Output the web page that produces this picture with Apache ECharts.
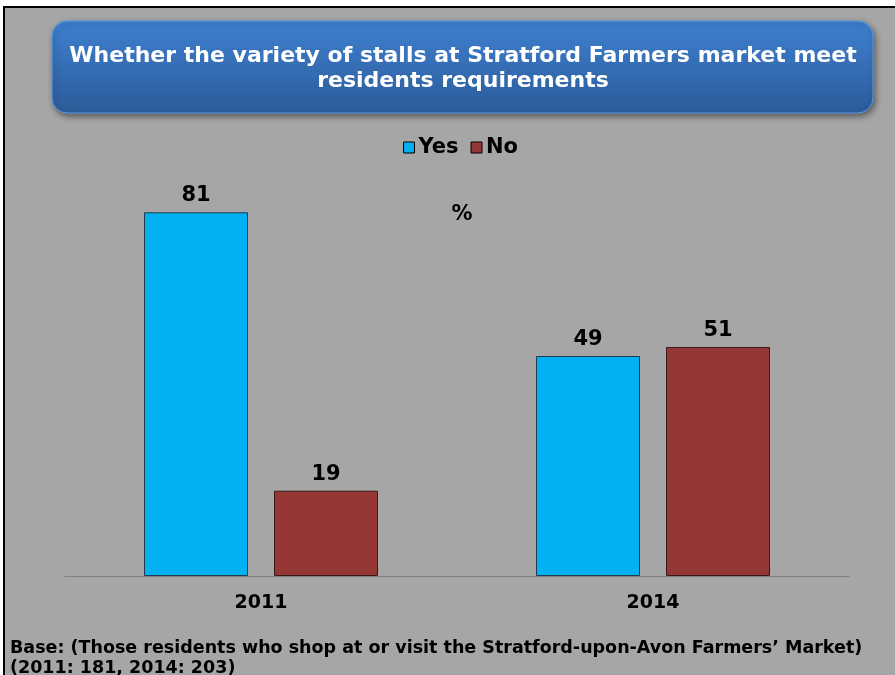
<!DOCTYPE html>
<html>
<head>
<meta charset="utf-8">
<script src="https://cdn.jsdelivr.net/npm/echarts@6/dist/echarts.min.js"></script>
<style>
html,body{margin:0;padding:0;background:#fff;}
#chart{width:895px;height:675px;}
</style>
</head>
<body>
<div id="chart"></div>
<script>
var years = ['2011', '2014'];
var yesVals = [81, 49];
var noVals = [19, 51];

var font = 'DejaVu Sans';
var myChart = echarts.init(document.getElementById('chart'));

var option = {
    backgroundColor: '#ffffff',
    animation: false,
    graphic: [
        // panel
        {type: 'rect', shape: {x: 4, y: 7, width: 895, height: 672},
         style: {fill: '#a6a6a6', stroke: '#000', lineWidth: 2}, z: -10},
        // title box
        {type: 'rect', shape: {x: 52, y: 21, width: 821, height: 92, r: 15},
         style: {
             fill: new echarts.graphic.LinearGradient(0, 0, 0, 1, [
                 {offset: 0, color: '#3f80d0'},
                 {offset: 1, color: '#2c5b99'}
             ]),
             stroke: '#5b9ae6', lineWidth: 1,
             shadowBlur: 6, shadowOffsetX: 2, shadowOffsetY: 3, shadowColor: 'rgba(0,0,0,0.45)'
         }, z: 1},
        {type: 'text', x: 463, y: 69, z: 2,
         style: {text: 'Whether the variety of stalls at Stratford Farmers market meet\nresidents requirements',
             fill: '#fff', font: 'bold 22px "DejaVu Sans"', align: 'center', verticalAlign: 'middle', lineHeight: 25}},
        {type: 'text', x: 462, y: 215, z: 2,
         style: {text: '%', fill: '#000', font: 'bold 21px "DejaVu Sans"', align: 'center', verticalAlign: 'middle'}},
        {type: 'text', x: 10, y: 658, z: 2,
         style: {text: 'Base: (Those residents who shop at or visit the Stratford-upon-Avon Farmers\u2019 Market)\n(2011: 181, 2014: 203)',
             fill: '#000', font: 'bold 17.5px "DejaVu Sans"', align: 'left', verticalAlign: 'middle', lineHeight: 20}}
    ],
    legend: {
        top: 132,
        left: 398,
        itemWidth: 11,
        itemHeight: 11,
        itemGap: 12,
        icon: 'rect',
        itemStyle: {borderColor: '#000', borderWidth: 1},
        textStyle: {fontFamily: font, fontWeight: 'bold', fontSize: 21, color: '#000', padding: [0, 0, 0, -1]},
        data: ['Yes', 'No']
    },
    grid: {left: 65, right: 46, top: 127, bottom: 99, containLabel: false},
    xAxis: {
        type: 'category',
        data: years,
        axisLine: {lineStyle: {color: '#7f7f7f', width: 1}},
        axisTick: {show: false},
        axisLabel: {fontFamily: font, fontWeight: 'bold', fontSize: 19, color: '#000', margin: 18}
    },
    yAxis: {
        type: 'value',
        min: 0,
        max: 100,
        show: false,
        splitLine: {show: false}
    },
    series: [
        {
            name: 'Yes', type: 'bar', data: yesVals, barWidth: 104, barGap: '25%',
            itemStyle: {color: '#00b0f0', borderColor: '#1f3b4d', borderWidth: 1},
            label: {show: true, position: 'top', distance: 6, fontFamily: font, fontWeight: 'bold', fontSize: 21, color: '#000'}
        },
        {
            name: 'No', type: 'bar', data: noVals, barWidth: 104,
            itemStyle: {color: '#953735', borderColor: '#3a1a19', borderWidth: 1},
            label: {show: true, position: 'top', distance: 6, fontFamily: font, fontWeight: 'bold', fontSize: 21, color: '#000'}
        }
    ]
};

myChart.setOption(option);
</script>
</body>
</html>
